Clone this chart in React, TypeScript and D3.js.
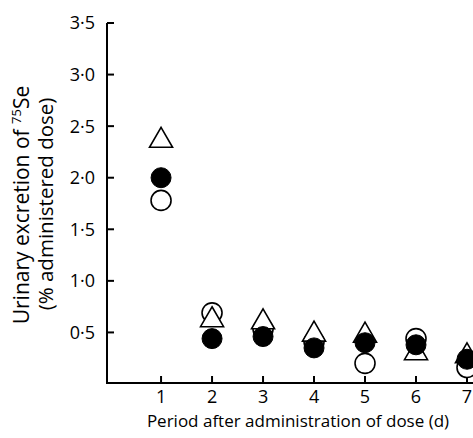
import React from "react";
import * as d3 from "d3";

const days = [1, 2, 3, 4, 5, 6, 7];
const filledCircle = [2.0, 0.44, 0.46, 0.35, 0.40, 0.38, 0.24];
const openCircle = [1.78, 0.69, 0.53, 0.41, 0.20, 0.44, 0.16];
const openTriangle = [2.36, 0.62, 0.60, 0.48, 0.47, 0.30, 0.27];
const yTicks = [0.5, 1.0, 1.5, 2.0, 2.5, 3.0, 3.5];
const xTicks = [1, 2, 3, 4, 5, 6, 7];

const W = 473;
const H = 438;
const FONT = "'Open Sans', Lato, sans-serif";

export default function App() {
  const x = d3.scaleLinear().domain([-0.06, 7]).range([107, 467]);
  const y = d3.scaleLinear().domain([0, 3.5]).range([384, 23]);
  const axisX = x(-0.06);
  const axisY = 383;
  const tri = d3.symbol().type(d3.symbolTriangle).size(230)();
  const fmt = (v: number) => v.toFixed(1).replace(".", "\u00B7");

  return (
    <svg
      width={W}
      height={H}
      style={{ position: "absolute", left: 0, top: 0, background: "#fff" }}
      fontFamily={FONT}
    >
      {/* axes */}
      <line x1={axisX} x2={axisX} y1={y(3.5)} y2={axisY} stroke="#000" strokeWidth={2} />
      <line x1={axisX - 1} x2={W} y1={axisY} y2={axisY} stroke="#000" strokeWidth={2} />
      {yTicks.map((t) => (
        <g key={"y" + t}>
          <line x1={axisX} x2={axisX + 7} y1={y(t)} y2={y(t)} stroke="#000" strokeWidth={2} />
          <text x={95} y={y(t)} dy="0.36em" textAnchor="end" fontSize={18}>
            {fmt(t)}
          </text>
        </g>
      ))}
      {xTicks.map((t) => (
        <g key={"x" + t}>
          <line x1={x(t)} x2={x(t)} y1={axisY} y2={axisY - 7} stroke="#000" strokeWidth={2} />
          <text x={x(t)} y={403} textAnchor="middle" fontSize={18}>
            {t}
          </text>
        </g>
      ))}
      <text x={298} y={427} textAnchor="middle" fontSize={17}>
        Period after administration of dose (d)
      </text>
      <text transform={`translate(29,205) rotate(-90)`} textAnchor="middle" fontSize={21}>
        Urinary excretion of <tspan fontSize={13} dy={-8}>75</tspan>
        <tspan dy={8}>Se</tspan>
      </text>
      <text transform={`translate(53,204) rotate(-90)`} textAnchor="middle" fontSize={20.5}>
        (% administered dose)
      </text>

      {/* markers */}
      {days.map((d, i) => (
        <circle key={"o" + d} cx={x(d)} cy={y(openCircle[i])} r={10} fill="#fff" stroke="#000" strokeWidth={1.6} />
      ))}
      {days.map((d, i) => (
        <path
          key={"t" + d}
          d={tri || ""}
          transform={`translate(${x(d)},${y(openTriangle[i])})`}
          fill="#fff"
          stroke="#000"
          strokeWidth={1.6}
        />
      ))}
      {days.map((d, i) => (
        <circle key={"f" + d} cx={x(d)} cy={y(filledCircle[i])} r={10} fill="#000" stroke="#000" strokeWidth={1} />
      ))}
    </svg>
  );
}
